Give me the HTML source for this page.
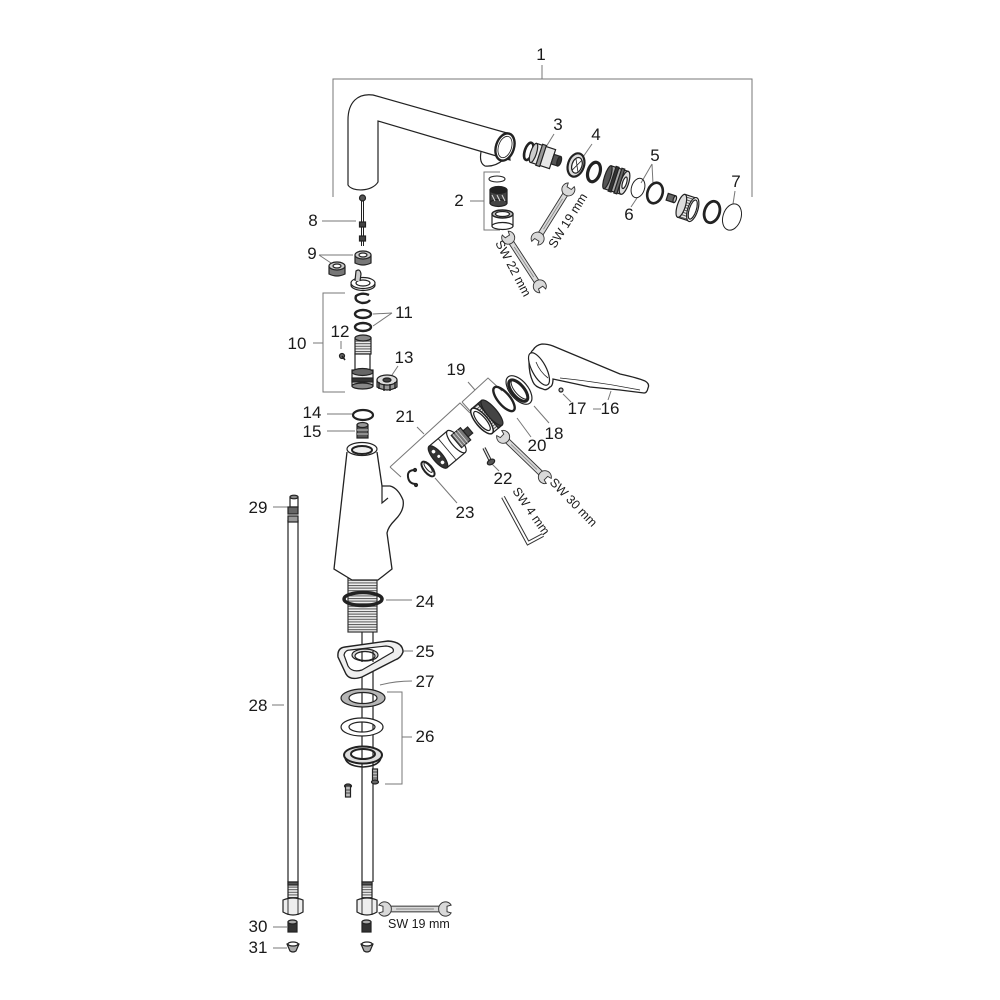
<!DOCTYPE html>
<html><head><meta charset="utf-8"><style>html,body{margin:0;padding:0;background:#fff}svg{display:block}</style></head><body>
<svg width="1000" height="1000" viewBox="0 0 1000 1000" xmlns="http://www.w3.org/2000/svg">
<defs>
<pattern id="thr" width="6" height="2.6" patternUnits="userSpaceOnUse"><rect width="6" height="2.6" fill="#eee"/><rect y="0" width="6" height="1" fill="#555"/></pattern>
<g id="wr" stroke="#333" stroke-width="0.9" fill="#d9d9d9">
<rect x="-24" y="-2.6" width="48" height="5.2"/>
<line x1="-18" y1="0" x2="18" y2="0" stroke="#888" stroke-width="0.8"/>
<path d="M34.45,-3.54 A6.5,6.5 0 1 0 34.45,3.54 L30.5,2.5 L30.5,-2.5 Z"/>
<path d="M-34.45,-3.54 A6.5,6.5 0 1 1 -34.45,3.54 L-30.5,2.5 L-30.5,-2.5 Z"/>
</g>
</defs>
<rect width="1000" height="1000" fill="#fff"/>

<!-- leaders -->
<g stroke="#777" stroke-width="1" fill="none">
<path d="M333,197 V79 H752 V197 M542,65 V79"/>
<path d="M470,201 H484 M500,172 H484 V230 H500"/>
<path d="M554,134 L546,147"/>
<path d="M592,144 L583,157"/>
<path d="M652,164 L641,183 M652,164 L653,184"/>
<path d="M631,207 L637,198"/>
<path d="M735,191 L733,204"/>
<path d="M322,221 H356"/>
<path d="M319,255 H353 M319,255 L331,263"/>
<path d="M313,343 H323 M345,293 H323 V392 H345"/>
<path d="M392,313 L373,314 M392,313 L373,326"/>
<path d="M341,341 V349"/>
<path d="M398,366 L390,378"/>
<path d="M327,414 H352"/>
<path d="M327,431 H355"/>
<path d="M593,409 H601 M608,400 L611,391"/>
<path d="M563,394 L571,402"/>
<path d="M534,406 L549,423"/>
<path d="M462,402 L488,378 L502,391 M462,402 L471,412 M468,382 L475,390"/>
<path d="M517,418 L531,437"/>
<path d="M390,467 L460,403 L470,413 M390,467 L401,477 M417,427 L424,434"/>
<path d="M492,464 L499,471"/>
<path d="M435,478 L457,503"/>
<path d="M386,600 H412"/>
<path d="M403,651 H413"/>
<path d="M387,692 H402 V784 H385 M402,737 H412"/>
<path d="M380,685 Q395,681 412,681"/>
<path d="M272,705 H284"/>
<path d="M273,507 H288"/>
<path d="M273,927 H287"/>
<path d="M273,948 H287"/>
</g>

<g stroke="#222" stroke-width="1.2" fill="#fff">
<!-- spout -->
<path d="M348,185 L348,120 C348,102 358,93 373,95 L507,133 L510,160 L483,152 L378,121 L378,182 C372,192 352,192 348,185 Z" stroke-width="1.2"/>
<path d="M481,152 Q479,163 485,166 Q495,167 503,160" fill="#fff"/>
<ellipse cx="505" cy="147" rx="9" ry="14" transform="rotate(18 505 147)" stroke-width="2.4"/>
<ellipse cx="505" cy="147" rx="6.5" ry="11" transform="rotate(18 505 147)" stroke-width="0.8"/>

<!-- part 3 -->
<g transform="translate(543,156) rotate(18)">
<ellipse cx="-15" cy="0" rx="4" ry="9" stroke-width="2.6"/>
<rect x="-10" y="-10" width="20" height="20" fill="#e8e8e8"/>
<ellipse cx="-10" cy="0" rx="3" ry="10" fill="#ccc"/>
<rect x="-4" y="-11" width="4" height="22" fill="#999"/>
<rect x="10" y="-5" width="7" height="10" fill="#555"/>
<ellipse cx="17" cy="0" rx="2" ry="5" fill="#333"/>
</g>
<!-- part 4 -->
<g transform="translate(576,165) rotate(18)">
<ellipse cx="0" cy="0" rx="8" ry="12" stroke-width="2.2" fill="#ddd"/>
<ellipse cx="1" cy="0" rx="5" ry="8" fill="#fff"/>
<path d="M-2,-6 L4,6 M4,-6 L-2,6" stroke-width="0.8"/>
</g>
<!-- black ring -->
<ellipse cx="594" cy="172" rx="6" ry="10" transform="rotate(18 594 172)" stroke-width="3.2" fill="#fff"/>
<!-- valve body -->
<g transform="translate(616,180) rotate(18)">
<rect x="-9" y="-12" width="18" height="24" fill="#aaa"/>
<ellipse cx="-9" cy="0" rx="3" ry="12" fill="#555"/>
<ellipse cx="9" cy="0" rx="4" ry="12" fill="#ddd"/>
<rect x="-4" y="-13" width="3" height="26" fill="#333"/>
<rect x="2" y="-13" width="3" height="26" fill="#666"/>
<ellipse cx="9" cy="0" rx="2" ry="6" fill="#fff"/>
</g>
<!-- 6 and 5 -->
<ellipse cx="638" cy="188" rx="6.5" ry="10" transform="rotate(18 638 188)" stroke-width="1" fill="none"/>
<ellipse cx="655" cy="193" rx="7.5" ry="10.5" transform="rotate(18 655 193)" stroke-width="2.6" fill="none"/>
<!-- small -->
<g transform="translate(671,198) rotate(18)"><rect x="-4" y="-3.5" width="8" height="7" fill="#666"/><ellipse cx="4" cy="0" rx="1.5" ry="3.5" fill="#bbb"/></g>
<!-- threaded ring -->
<g transform="translate(688,208) rotate(18)">
<rect x="-7" y="-12" width="12" height="24" fill="url(#thr)"/>
<ellipse cx="-7" cy="0" rx="4" ry="12" fill="#ddd"/>
<ellipse cx="5" cy="0" rx="5" ry="12.5" fill="#fff"/>
<ellipse cx="5" cy="0" rx="3.5" ry="10" fill="#fff"/>
</g>
<!-- o-ring -->
<ellipse cx="712" cy="212" rx="7.5" ry="11" transform="rotate(18 712 212)" stroke-width="2.8" fill="none"/>
<!-- 7 -->
<ellipse cx="732" cy="217" rx="9" ry="13.5" transform="rotate(18 732 217)" stroke-width="1" fill="#fff"/>

<!-- part 2 -->
<ellipse cx="497" cy="179" rx="8" ry="3" stroke-width="1.1"/>
<rect x="490" y="190" width="17" height="13" fill="#444"/>
<ellipse cx="498.5" cy="203" rx="8.5" ry="3.5" fill="#444"/>
<ellipse cx="498.5" cy="190" rx="8.5" ry="3.5" fill="#222"/>
<path d="M492,195 L495,201 M497,195 L500,201 M502,195 L505,201" stroke="#ddd" stroke-width="1"/>
<rect x="492" y="214" width="21" height="12" fill="#fff"/>
<ellipse cx="502.5" cy="226" rx="10.5" ry="3.5" fill="#fff"/>
<ellipse cx="502.5" cy="214" rx="10.5" ry="4" fill="#bbb" stroke-width="1.4"/>
<ellipse cx="502.5" cy="214" rx="7" ry="2.5" fill="#fff"/>
</g>

<!-- wrenches -->
<use href="#wr" transform="translate(524,262) rotate(57)"/>
<use href="#wr" transform="translate(553,214) rotate(-58)"/>
<use href="#wr" transform="translate(524,457) rotate(44)"/>
<use href="#wr" transform="translate(415,909) scale(1.05,1.1)"/>
<!-- hex key -->
<path d="M503,497 L528,543 L543,535" stroke="#333" stroke-width="4" fill="none" stroke-linejoin="miter"/>
<path d="M503,497 L528,543 L543,535" stroke="#fff" stroke-width="2" fill="none" stroke-linejoin="miter"/>

<g stroke="#222" stroke-width="1.2" fill="#fff">
<!-- 8 rod -->
<line x1="362.5" y1="200" x2="362.5" y2="246" stroke-width="3"/>
<line x1="362.5" y1="200" x2="362.5" y2="246" stroke="#fff" stroke-width="1"/>
<circle cx="362.5" cy="198" r="3" fill="#555"/>
<rect x="359.5" y="222" width="6" height="5" fill="#444"/>
<rect x="359.5" y="236" width="6" height="5" fill="#444"/>
<!-- 9 nuts -->
<g transform="translate(363,258)">
<path d="M-8,-3 L-8,5 Q0,9 8,5 L8,-3" fill="#777"/>
<ellipse cx="0" cy="-3" rx="8" ry="4" fill="#ccc"/>
<ellipse cx="0" cy="-3" rx="4" ry="2" fill="#fff"/>
</g>
<g transform="translate(337,269)">
<path d="M-8,-3 L-8,5 Q0,9 8,5 L8,-3" fill="#777"/>
<ellipse cx="0" cy="-3" rx="8" ry="4" fill="#ccc"/>
<ellipse cx="0" cy="-3" rx="4" ry="2" fill="#fff"/>
</g>
<!-- ring -->
<ellipse cx="363" cy="285" rx="12" ry="5.5" fill="#ddd"/>
<ellipse cx="363" cy="283" rx="12" ry="5.5" fill="#fff"/>
<ellipse cx="363" cy="283" rx="7" ry="3" fill="#fff"/>
<path d="M355,281 L356,271 Q360,268 361,274 L360,281" fill="#ccc"/>
<!-- clip -->
<path d="M369,295 Q362,292 356,296 Q354,301 362,303 Q368,303 370,300" stroke-width="2.4" fill="none"/>
<!-- 11 o-rings -->
<ellipse cx="363" cy="314" rx="8" ry="4" stroke-width="2.4" fill="none"/>
<ellipse cx="363" cy="327" rx="8" ry="4" stroke-width="2.4" fill="none"/>
<!-- 10 cartridge -->
<rect x="355" y="338" width="16" height="16" fill="url(#thr)"/>
<ellipse cx="363" cy="338" rx="8" ry="3" fill="#888"/>
<rect x="355" y="354" width="15" height="16"/>
<rect x="352" y="370" width="21" height="16" fill="#eee"/>
<ellipse cx="362.5" cy="372" rx="10.5" ry="3.5" fill="#666"/>
<rect x="352" y="378" width="21" height="4" fill="#333"/>
<ellipse cx="362.5" cy="386" rx="10.5" ry="3" fill="#888"/>
<!-- 12 screw -->
<circle cx="342" cy="356" r="2.5" fill="#666"/>
<line x1="342" y1="356" x2="345" y2="360" stroke-width="1.6"/>
<!-- 13 nut -->
<g transform="translate(387,383)">
<path d="M-10,-3 L-10,4 Q0,10 10,4 L10,-3" fill="#999"/>
<ellipse cx="0" cy="-3" rx="10" ry="5" fill="#ddd"/>
<ellipse cx="0" cy="-3" rx="4" ry="2" fill="#444"/>
<path d="M-8,-1 L-8,6 M-3,1 L-3,8 M3,1 L3,8 M8,-1 L8,6" stroke-width="1.4"/>
</g>
<!-- 14 -->
<ellipse cx="363" cy="415" rx="10" ry="5" stroke-width="2.2" fill="none"/>
<!-- 15 -->
<rect x="357" y="425" width="11" height="13" fill="#555"/>
<ellipse cx="362.5" cy="425" rx="5.5" ry="2.5" fill="#999"/>
<path d="M357,430 H368 M357,434 H368" stroke="#ccc" stroke-width="1"/>

<!-- body -->
<rect x="348" y="578" width="29" height="54" fill="url(#thr)" stroke="#333"/>
<path d="M347,452 L334,569 L352,580 L378,580 L392,569 L387,533 Q388,527 395,520 Q405,510 403,500 Q398,488 390,486 L382,486 L377,452" stroke-width="1.3"/>
<path d="M382,486 L382,503 L388,498" fill="none"/>
<ellipse cx="362" cy="449" rx="15" ry="6.5"/>
<ellipse cx="362" cy="450" rx="10" ry="4" stroke-width="2" fill="#eee"/>
<ellipse cx="363" cy="599" rx="19" ry="6.5" stroke-width="3.5" fill="none"/>

<!-- pipes -->
<path d="M362,632 V882 M373,632 V882" fill="none"/>
<path d="M288,520 V882 M298,520 V882" fill="none"/>

<!-- 25 plate -->
<path d="M338,657 Q337,648 345,647 L388,641 Q403,642 403,652 Q401,658 395,660 L362,677 Q350,681 346,674 Z" fill="#eee" stroke-width="1.4"/>
<path d="M344,655 Q345,650 350,650 L386,646 Q395,647 393,652 L362,670 Q352,673 348,666 Z" fill="#fff"/>
<ellipse cx="365" cy="655" rx="13" ry="6" fill="#ddd"/>
<ellipse cx="365" cy="656" rx="10" ry="4.5" fill="#fff"/>
<path d="M362,651 V662 M373,651 V662" fill="none"/>

<!-- 27 washer -->
<path d="M341,698 a22,9 0 1,0 44,0 a22,9 0 1,0 -44,0 Z M349,698 a14,5.5 0 1,0 28,0 a14,5.5 0 1,0 -28,0 Z" fill="#b5b5b5" fill-rule="evenodd"/>
<!-- washer -->
<path d="M341,727 a21,9 0 1,0 42,0 a21,9 0 1,0 -42,0 Z M349,727 a13,5 0 1,0 26,0 a13,5 0 1,0 -26,0 Z" fill="#fff" fill-rule="evenodd"/>
<!-- plate -->
<path d="M344,755 a19,8.5 0 1,0 38,0 a19,8.5 0 1,0 -38,0 Z M351,754 a12,5 0 1,0 24,0 a12,5 0 1,0 -24,0 Z" fill="#ddd" fill-rule="evenodd" stroke-width="2"/>
<path d="M345,757 Q346,766 363,767 Q380,766 381,757" fill="none" stroke-width="1.6"/>
<!-- screws -->
<rect x="372.5" y="769" width="5" height="13" fill="#bbb"/>
<path d="M372.5,772 H377.5 M372.5,775 H377.5 M372.5,778 H377.5" stroke-width="0.8"/>
<ellipse cx="375" cy="782" rx="3.5" ry="2" fill="#666"/>
<ellipse cx="348" cy="786" rx="3.5" ry="2" fill="#666"/>
<rect x="345.5" y="786" width="5" height="11" fill="#bbb"/>
<path d="M345.5,790 H350.5 M345.5,793 H350.5" stroke-width="0.8"/>

<!-- 29 fitting -->
<rect x="290" y="497" width="8" height="10" fill="#fff"/>
<ellipse cx="294" cy="497" rx="4" ry="1.8" fill="#888"/>
<rect x="288" y="507" width="10" height="7" fill="#666"/>
<rect x="288" y="516" width="10" height="6" fill="#999"/>

<!-- bottom fittings -->
<g transform="translate(293,0)">
<rect x="-5" y="882" width="10" height="16" fill="url(#thr)"/>
<rect x="-5" y="882" width="10" height="3" fill="#555"/>
<path d="M-10,900 L-10,912 Q0,918 10,912 L10,900 Q0,896 -10,900 Z" fill="#eee"/>
<path d="M-5,899 V915 M5,899 V915" stroke-width="0.9"/>
<rect x="-5" y="922" width="9" height="10" fill="#333"/>
<ellipse cx="-0.5" cy="922" rx="4.5" ry="2" fill="#aaa"/>
<path d="M-6,944 Q0,941 6,944 L3,951 Q0,953 -3,951 Z" fill="#aaa"/>
<ellipse cx="0" cy="944" rx="5" ry="2" fill="#fff"/>
</g>
<g transform="translate(367,0)">
<rect x="-5" y="882" width="10" height="16" fill="url(#thr)"/>
<rect x="-5" y="882" width="10" height="3" fill="#555"/>
<path d="M-10,900 L-10,912 Q0,918 10,912 L10,900 Q0,896 -10,900 Z" fill="#eee"/>
<path d="M-5,899 V915 M5,899 V915" stroke-width="0.9"/>
<rect x="-5" y="922" width="9" height="10" fill="#333"/>
<ellipse cx="-0.5" cy="922" rx="4.5" ry="2" fill="#aaa"/>
<path d="M-6,944 Q0,941 6,944 L3,951 Q0,953 -3,951 Z" fill="#aaa"/>
<ellipse cx="0" cy="944" rx="5" ry="2" fill="#fff"/>
</g>

<!-- right cluster -->
<!-- clip -->
<path d="M415,470 Q407,470 408,477 Q409,484 416,484" stroke-width="2" fill="none"/>
<circle cx="415" cy="470" r="1.5" fill="#333"/>
<circle cx="416" cy="485" r="1.5" fill="#333"/>
<!-- 23 ring -->
<g transform="translate(428,469) rotate(-40)">
<ellipse cx="0" cy="0" rx="4" ry="9" stroke-width="2" fill="none"/>
<ellipse cx="1" cy="-1" rx="2" ry="6" stroke-width="1" fill="none"/>
</g>
<!-- 21 cartridge -->
<g transform="translate(438,457) rotate(-40)">
<rect x="0" y="-14" width="24" height="28" fill="#fff"/>
<ellipse cx="24" cy="0" rx="5" ry="14" fill="#fff"/>
<rect x="24" y="-8" width="12" height="16" fill="#777"/>
<path d="M26,-8 V8 M29,-8 V8 M32,-8 V8" stroke="#ddd" stroke-width="0.8"/>
<rect x="36" y="-4" width="6" height="8" fill="#444"/>
<ellipse cx="0" cy="0" rx="5" ry="14" fill="#333"/>
<circle cx="0" cy="-7" r="1.8" fill="#fff" stroke="none"/>
<circle cx="0" cy="7" r="1.8" fill="#fff" stroke="none"/>
<circle cx="1" cy="0" r="1.5" fill="#fff" stroke="none"/>
<line x1="12" y1="-14" x2="12" y2="14" stroke-width="0.8"/>
</g>
<!-- 22 screw -->
<line x1="484" y1="448" x2="490" y2="460" stroke-width="3.4"/>
<line x1="484" y1="448" x2="490" y2="460" stroke="#ddd" stroke-width="1.4"/>
<ellipse cx="491" cy="462" rx="4" ry="2.5" fill="#555" transform="rotate(-30 491 462)"/>
<!-- bonnet -->
<g transform="translate(482,421) rotate(-40)">
<rect x="0" y="-16" width="13" height="32" fill="url(#thr)"/>
<rect x="8" y="-16" width="5" height="32" fill="#444"/>
<ellipse cx="13" cy="0" rx="5" ry="16" fill="#444"/>
<ellipse cx="0" cy="0" rx="6" ry="16" fill="#fff" stroke-width="1.5"/>
<ellipse cx="0" cy="0" rx="4" ry="12" fill="#fff"/>
</g>
<!-- 20 -->
<ellipse cx="504" cy="399" rx="6" ry="15" transform="rotate(-40 504 399)" stroke-width="2.4" fill="none"/>
<!-- 18 -->
<g transform="translate(519,390) rotate(-40)">
<ellipse cx="0" cy="0" rx="9" ry="17" fill="#fff"/>
<ellipse cx="-1" cy="0" rx="6" ry="13" stroke-width="3" fill="none"/>
<ellipse cx="1" cy="0" rx="5" ry="12" stroke-width="1" fill="none"/>
</g>
<!-- 16 handle -->
<path d="M529,362 Q530,352 533,350 Q536,345 542,344 Q548,344 553,346 L620,374 Q638,378 645,381 Q650,384 648,388 Q647,393 644,393 L620,390 L590,387 L567,382 L553,379 Q553,386 550,387 Q546,391 543,389 Q535,387 533,382 Q529,374 529,362 Z" stroke-width="1.3"/>
<ellipse cx="539" cy="369" rx="7" ry="18" transform="rotate(-28 539 369)" fill="#fff"/>
<path d="M536,362 Q540,372 548,378" fill="none" stroke-width="0.8"/>
<path d="M560,378 Q600,382 640,390" fill="none" stroke-width="0.7"/>
<circle cx="561" cy="390" r="2" fill="#ccc"/>
</g>

<!-- labels -->
<g font-family="'Liberation Sans', Arial, sans-serif" font-size="17" fill="#1a1a1a" text-anchor="middle">
<text x="541" y="60">1</text>
<text x="459" y="206">2</text>
<text x="558" y="130">3</text>
<text x="596" y="140">4</text>
<text x="655" y="161">5</text>
<text x="629" y="220">6</text>
<text x="736" y="187">7</text>
<text x="313" y="226">8</text>
<text x="312" y="259">9</text>
<text x="297" y="349">10</text>
<text x="404" y="318">11</text>
<text x="340" y="337">12</text>
<text x="404" y="363">13</text>
<text x="312" y="418">14</text>
<text x="312" y="437">15</text>
<text x="610" y="414">16</text>
<text x="577" y="414">17</text>
<text x="554" y="439">18</text>
<text x="456" y="375">19</text>
<text x="537" y="451">20</text>
<text x="405" y="422">21</text>
<text x="503" y="484">22</text>
<text x="465" y="518">23</text>
<text x="425" y="607">24</text>
<text x="425" y="657">25</text>
<text x="425" y="742">26</text>
<text x="425" y="687">27</text>
<text x="258" y="711">28</text>
<text x="258" y="513">29</text>
<text x="258" y="932">30</text>
<text x="258" y="953">31</text>
</g>
<g font-family="'Liberation Sans', Arial, sans-serif" font-size="12.5" fill="#1a1a1a">
<text transform="translate(495,243) rotate(62)">SW 22 mm</text>
<text transform="translate(555,249) rotate(-58)">SW 19 mm</text>
<text transform="translate(549,483) rotate(46)">SW 30 mm</text>
<text transform="translate(512,491) rotate(55)">SW 4 mm</text>
<text x="388" y="928">SW 19 mm</text>
</g>
</svg>
</body></html>
